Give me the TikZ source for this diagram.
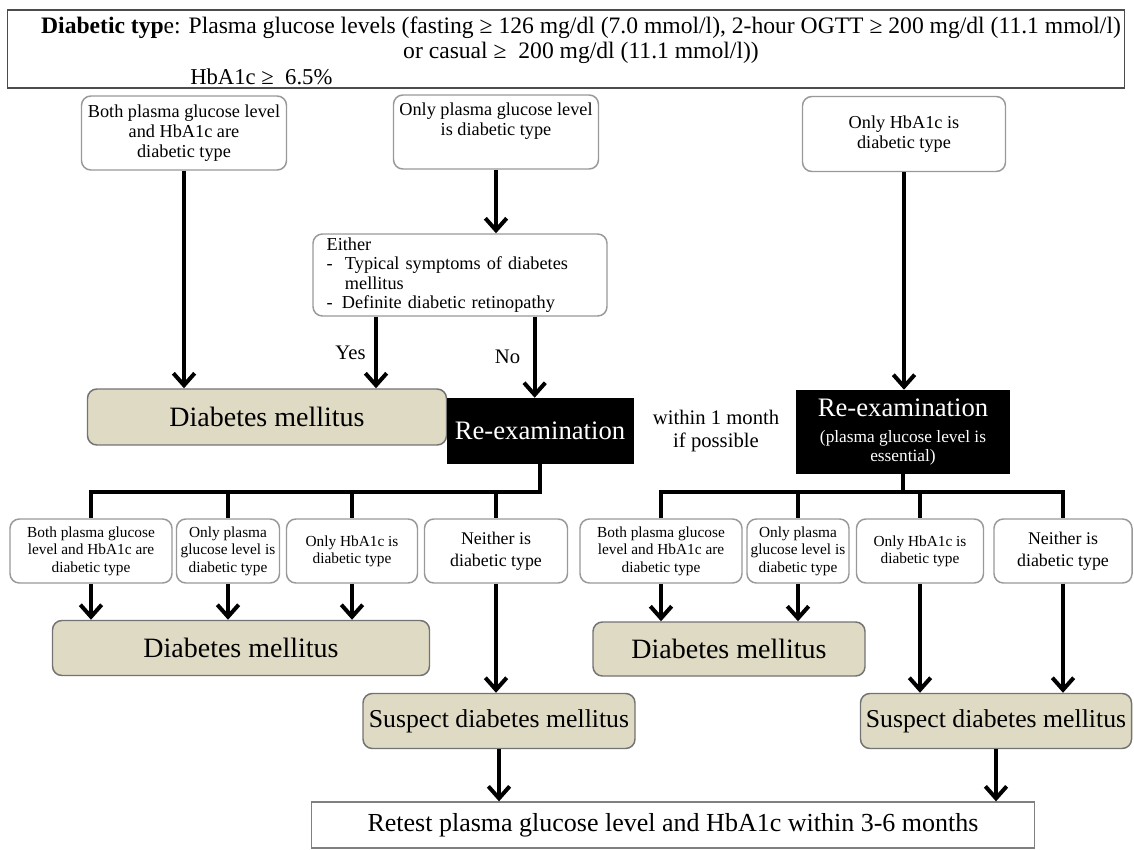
\documentclass[tikz,border=0pt]{standalone}
\usepackage{fontspec}
\setmainfont{Liberation Serif}
\usetikzlibrary{arrows.meta}

\begin{document}
\begin{tikzpicture}[x=0.75pt, y=-0.75pt,
  wh/.style 2 args={minimum width=#1*0.75pt, minimum height=#2*0.75pt},
  box/.style={draw=black!40, line width=1.1pt, fill=white, rounded corners=7pt, align=center, inner sep=2pt},
  small/.style={font=\fontsize{13.7}{14.8}\selectfont},
  tiny/.style={font=\fontsize{11.5}{13}\selectfont},
  result/.style={draw=black!55, line width=1.1pt, fill=dmtan, rounded corners=7pt, font=\fontsize{21}{24}\selectfont},
  suspect/.style={result, font=\fontsize{19.3}{22}\selectfont},
  exam/.style={fill=black, text=white, align=center, inner sep=2pt},
  arr/.style={line width=3pt, -{Straight Barb[length=9pt,width=16pt]}},
  bus/.style={line width=3pt}]

  \definecolor{dmtan}{RGB}{223,218,196}
  \useasboundingbox (0,0) rectangle (1134,849);

  % criteria box
  \node[draw=black!70, line width=1.3pt, wh={1117}{78}] (crit) at (566,49) {};
  \node[align=center, font=\fontsize{17.7}{18.75}\selectfont] (crittxt) at (581,40)
    {\textbf{Diabetic typ}e: Plasma glucose levels (fasting ≥ 126 mg/dl (7.0 mmol/l), 2-hour OGTT ≥ 200 mg/dl (11.1 mmol/l)\\
     or casual ≥\ \ 200 mg/dl (11.1 mmol/l))};
  \node[anchor=west, font=\fontsize{17}{18.75}\selectfont, inner sep=0pt] (hba) at (190,77) {HbA1c ≥\ \ 6.5\%};

  % first test
  \node[box, small, wh={205}{74}] (both) at (184,133) {Both plasma glucose level\\and HbA1c are\\diabetic type};
  \node[box, small, wh={205}{74}] (onlypg) at (496,132) {Only plasma glucose level\\is diabetic type\\\strut};
  \node[box, small, wh={203}{75}] (onlyhb) at (904,134) {Only HbA1c is\\diabetic type};
  \node[box, small, wh={294}{82}, align=left, text width=200pt, inner xsep=10pt, font=\fontsize{13.7}{14.5}\selectfont] (either) at (460,275)
    {Either\\
     -\hspace{0.67em}Typical symptoms of diabetes\\
     \hspace{1em}mellitus\\
     -\hspace{0.5em}Definite diabetic retinopathy};

  \node[result, wh={359}{56}] (dm1) at (267,417) {Diabetes mellitus};
  \node[exam, wh={187}{66}, font=\fontsize{20}{24}\selectfont] (rex1) at (540,431) {Re-examination};
  \node[align=center, font=\fontsize{15.5}{17}\selectfont] (within) at (716,431) {within 1 month\\if possible};
  \node[exam, wh={214}{84}, font=\fontsize{13}{14.5}\selectfont] (rex2) at (903,432)
    {{\fontsize{20}{24}\selectfont Re-examination}\\[5pt](plasma glucose level is\\essential)};

  \draw[arr] (both.south) -- (both.south |- dm1.north);
  \draw[arr] (onlypg.south) -- (onlypg.south |- either.north);
  \draw[arr] ([xshift=-63pt]either.south) -- ([xshift=-63pt]either.south |- dm1.north)
    node[midway, left=3pt, font=\fontsize{15.5}{17}\selectfont] (yes) {Yes};
  \draw[arr] ([xshift=56pt]either.south) -- ([xshift=56pt]either.south |- rex1.north)
    node[midway, left=6pt, font=\fontsize{15.5}{17}\selectfont] (no) {No};
  \draw[arr] (onlyhb.south) -- (onlyhb.south |- rex2.north);

  % second test, left
  \node[box, tiny, wh={162}{64}] (l1) at (91,551) {Both plasma glucose\\level and HbA1c are\\diabetic type};
  \node[box, tiny, wh={103}{64}] (l2) at (228,551) {Only plasma\\glucose level is\\diabetic type};
  \node[box, tiny, wh={131}{64}] (l3) at (352,551) {Only HbA1c is\\diabetic type};
  \node[box, small, wh={143}{64}, font=\fontsize{13.4}{16.5}\selectfont] (l4) at (496,551) {Neither is\\diabetic type};
  \node[result, wh={377}{55}] (dm2) at (241,648) {Diabetes mellitus};
  \node[suspect, wh={272}{55}] (sd1) at (499,721) {Suspect diabetes mellitus};

  % second test, right
  \node[box, tiny, wh={162}{64}] (r1) at (661,551) {Both plasma glucose\\level and HbA1c are\\diabetic type};
  \node[box, tiny, wh={102}{64}] (r2) at (798,551) {Only plasma\\glucose level is\\diabetic type};
  \node[box, tiny, wh={127}{64}] (r3) at (920,551) {Only HbA1c is\\diabetic type};
  \node[box, small, wh={138}{64}, font=\fontsize{13.4}{16.5}\selectfont] (r4) at (1063,551) {Neither is\\diabetic type};
  \node[result, wh={272}{54}] (dm3) at (729,649) {Diabetes mellitus};
  \node[suspect, wh={271}{55}] (sd2) at (996,721) {Suspect diabetes mellitus};

  \node[draw=black!50, line width=1pt, fill=white, wh={723}{46}, font=\fontsize{19.5}{22}\selectfont] (retest) at (673,825)
    {Retest plasma glucose level and HbA1c within 3-6 months};

  % branch lines
  \coordinate (jl) at (540,492);
  \coordinate (jr) at (903,492);
  \draw[bus] (rex1.south) -- (jl) -| (l1.north);
  \foreach \n in {l2,l3,l4}
    \draw[bus] (\n.north |- jl) -- (\n.north);
  \draw[bus] (rex2.south) -- (jr);
  \draw[bus] (r1.north) |- (jr) -| (r4.north);
  \foreach \n in {r2,r3}
    \draw[bus] (\n.north |- jr) -- (\n.north);

  \foreach \a/\b in {l1/dm2, l2/dm2, l3/dm2, l4/sd1, r1/dm3, r2/dm3, r3/sd2, r4/sd2, sd1/retest, sd2/retest}
    \draw[arr] (\a.south) -- (\a.south |- \b.north);

\end{tikzpicture}
\end{document}
